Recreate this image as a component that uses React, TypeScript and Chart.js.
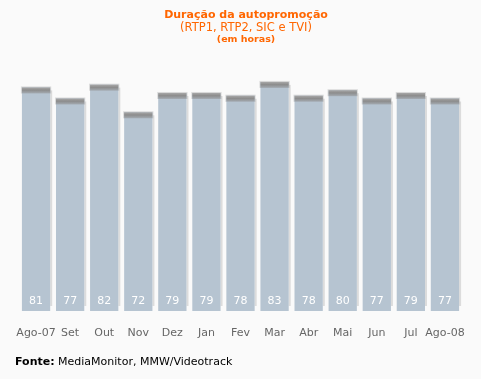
import React, { useEffect, useRef } from "react";
import { Chart, registerables } from "chart.js";

Chart.register(...registerables);

const months = ["Ago-07", "Set", "Out", "Nov", "Dez", "Jan", "Fev", "Mar", "Abr", "Mai", "Jun", "Jul", "Ago-08"];
const hours = [81, 77, 82, 72, 79, 79, 78, 83, 78, 80, 77, 79, 77];

const titleText = "Duração da autopromoção";
const subtitleText = "(RTP1, RTP2, SIC e TVI)";
const unitText = "(em horas)";
const sourceLabel = "Fonte:";
const sourceText = " MediaMonitor, MMW/Videotrack";

const FONT = "'DejaVu Sans', Verdana, sans-serif";
const ORANGE = "#ff6600";

const barDecor = {
  id: "barDecor",
  beforeDatasetsDraw(chart: any) {
    const ctx = chart.ctx;
    const meta = chart.getDatasetMeta(0);
    ctx.save();
    meta.data.forEach((bar: any) => {
      const { x, y, base, width } = bar.getProps(["x", "y", "base", "width"], true);
      const right = x + width / 2;
      const top = y;
      ctx.fillStyle = "#dcdcdc";
      ctx.fillRect(right, top + 3, 2, base - top - 8);
      ctx.fillStyle = "rgba(160,160,160,0.35)";
      ctx.fillRect(x - width / 2 - 1, top - 1, width + 2, 7);
    });
    ctx.restore();
  },
  afterDatasetsDraw(chart: any) {
    const ctx = chart.ctx;
    const meta = chart.getDatasetMeta(0);
    ctx.save();
    meta.data.forEach((bar: any, i: number) => {
      const { x, y, base, width } = bar.getProps(["x", "y", "base", "width"], true);
      const left = x - width / 2;
      const g = ctx.createLinearGradient(0, y, 0, y + 6);
      g.addColorStop(0, "#a8a8a8");
      g.addColorStop(0.45, "#8c8c8c");
      g.addColorStop(1, "#a4abb2");
      ctx.fillStyle = g;
      ctx.fillRect(left, y, width, 6);
      ctx.fillStyle = "#ffffff";
      ctx.font = "11px " + FONT;
      ctx.textAlign = "center";
      ctx.textBaseline = "middle";
      ctx.fillText(String(hours[i]), x, base - 10);
    });
    ctx.restore();
  },
  afterDraw(chart: any) {
    const ctx = chart.ctx;
    ctx.save();
    ctx.textAlign = "center";
    ctx.textBaseline = "middle";
    ctx.fillStyle = ORANGE;
    ctx.font = "bold 11px " + FONT;
    ctx.fillText(titleText, 246, 15);
    ctx.font = "11.5px " + FONT;
    ctx.fillText(subtitleText, 246, 28);
    ctx.font = "bold 9.5px " + FONT;
    ctx.fillText(unitText, 246, 40);
    ctx.textAlign = "left";
    ctx.fillStyle = "#000000";
    ctx.font = "bold 11px " + FONT;
    ctx.fillText(sourceLabel, 15, 362);
    const w = ctx.measureText(sourceLabel).width;
    ctx.font = "11px " + FONT;
    ctx.fillText(sourceText, 15 + w, 362);
    ctx.restore();
  },
};

const bgPlugin = {
  id: "bg",
  beforeDraw(chart: any) {
    const ctx = chart.ctx;
    ctx.save();
    ctx.fillStyle = "#fafafa";
    ctx.fillRect(0, 0, chart.width, chart.height);
    ctx.restore();
  },
};

export default function App() {
  const ref = useRef<HTMLCanvasElement>(null);
  useEffect(() => {
    if (!ref.current) return;
    const chart = new Chart(ref.current, {
      type: "bar",
      data: {
        labels: months,
        datasets: [
          {
            data: hours,
            backgroundColor: "#b6c4d1",
            borderWidth: 0,
            barPercentage: 0.83,
            categoryPercentage: 1,
          },
        ],
      },
      options: {
        responsive: false,
        animation: false,
        layout: { padding: { left: 13.6, right: 14.6, top: 35, bottom: 0 } },
        plugins: { legend: { display: false }, tooltip: { enabled: false }, title: { display: false } },
        scales: {
          y: { display: false, min: 0, max: 100 },
          x: {
            grid: { display: false, drawTicks: false },
            border: { display: false },
            ticks: {
              color: "#666666",
              font: { family: FONT, size: 11 },
              padding: 16,
              maxRotation: 0,
              autoSkip: false,
            },
            afterFit(scale: any) {
              scale.height = 68;
            },
          },
        },
      },
      plugins: [bgPlugin, barDecor],
    });
    return () => chart.destroy();
  }, []);
  return (
    <div style={{ position: "fixed", left: 0, top: 0, width: 481, height: 379 }}>
      <canvas ref={ref} width={481} height={379} style={{ display: "block" }} />
    </div>
  );
}
